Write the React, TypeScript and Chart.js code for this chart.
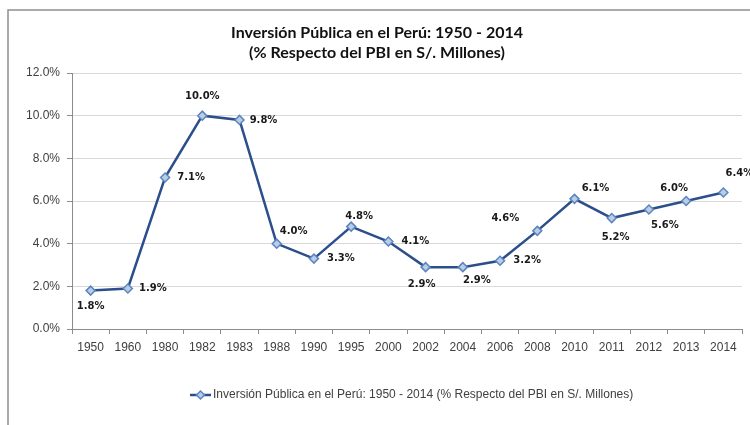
import React, { useEffect, useRef } from 'react';
import { Chart, registerables } from 'chart.js';

Chart.register(...registerables);

const years = ['1950', '1960', '1980', '1982', '1983', '1988', '1990', '1995', '2000', '2002', '2004', '2006', '2008', '2010', '2011', '2012', '2013', '2014'];
const values = [1.8, 1.9, 7.1, 10.0, 9.8, 4.0, 3.3, 4.8, 4.1, 2.9, 2.9, 3.2, 4.6, 6.1, 5.2, 5.6, 6.0, 6.4];
const yMin = 0;
const yMax = 12;
const yStep = 2;
const titleLines = ['Inversión Pública en el Perú: 1950 - 2014', '(% Respecto del PBI en S/. Millones)'];
const seriesName = 'Inversión Pública en el Perú: 1950 - 2014 (% Respecto del PBI en S/. Millones)';
// data label offsets relative to each point (style only)
const labelOffsets: [number, number][] = [
  [0, 16], [25, 0], [26, 0], [0, -19], [24, 0], [17, -12], [27, 0], [8, -10], [27, 0],
  [-4, 17], [14, 13], [27, 0], [-32, -12], [21, -10], [4, 19], [16, 16], [-12, -13], [16, -19],
];

const LINE = '#2c4f8c';
const MARK_FILL = '#b9cde5';
const MARK_BORDER = '#5b85bf';
const AXIS = '#8c8c8c';
const GRID = '#d9d9d9';
const TEXT = '#404040';

export default function App() {
  const ref = useRef<HTMLCanvasElement | null>(null);

  useEffect(() => {
    if (!ref.current) return;

    const framePlugin = {
      id: 'frame',
      beforeDraw(chart: any) {
        const ctx = chart.ctx;
        ctx.save();
        ctx.fillStyle = '#ffffff';
        ctx.fillRect(0, 0, chart.width, chart.height);
        ctx.strokeStyle = '#8f8f8f';
        ctx.lineWidth = 1.5;
        ctx.beginPath();
        ctx.moveTo(8, chart.height);
        ctx.lineTo(8, 10);
        ctx.lineTo(chart.width, 10);
        ctx.stroke();
        ctx.restore();
      },
      afterDraw(chart: any) {
        const ctx = chart.ctx;
        ctx.save();
        // title
        ctx.fillStyle = '#111111';
        ctx.textAlign = 'center';
        ctx.textBaseline = 'middle';
        ctx.font = 'bold 16px Lato';
        ctx.fillText(titleLines[0], 377, 33);
        ctx.fillText(titleLines[1], 377, 53);
        // legend
        const ly = 395;
        ctx.strokeStyle = LINE;
        ctx.lineWidth = 2.5;
        ctx.beginPath();
        ctx.moveTo(190, ly);
        ctx.lineTo(211, ly);
        ctx.stroke();
        ctx.fillStyle = MARK_FILL;
        ctx.strokeStyle = MARK_BORDER;
        ctx.lineWidth = 1.5;
        ctx.beginPath();
        ctx.moveTo(200.5, ly - 4);
        ctx.lineTo(204.5, ly);
        ctx.lineTo(200.5, ly + 4);
        ctx.lineTo(196.5, ly);
        ctx.closePath();
        ctx.fill();
        ctx.stroke();
        ctx.fillStyle = TEXT;
        ctx.textAlign = 'left';
        ctx.font = '12px "Liberation Sans"';
        ctx.fillText(seriesName, 213, ly);
        ctx.restore();
      },
    };

    const labelPlugin = {
      id: 'pointLabels',
      afterDatasetsDraw(chart: any) {
        const ctx = chart.ctx;
        const meta = chart.getDatasetMeta(0);
        ctx.save();
        ctx.font = 'bold 10px "DejaVu Sans"';
        ctx.fillStyle = '#1a1a1a';
        ctx.textAlign = 'center';
        ctx.textBaseline = 'middle';
        meta.data.forEach((el: any, i: number) => {
          const [dx, dy] = labelOffsets[i] || [0, -12];
          ctx.fillText(values[i].toFixed(1) + '%', el.x + dx, el.y + dy);
        });
        ctx.restore();
      },
    };

    const chart = new Chart(ref.current, {
      type: 'line',
      data: {
        labels: years,
        datasets: [
          {
            label: seriesName,
            data: values,
            borderColor: LINE,
            borderWidth: 2.5,
            backgroundColor: MARK_FILL,
            pointStyle: 'rectRot',
            pointRadius: 4.5,
            pointBackgroundColor: MARK_FILL,
            pointBorderColor: MARK_BORDER,
            pointBorderWidth: 1.5,
            tension: 0,
          },
        ],
      },
      options: {
        animation: false,
        responsive: false,
        devicePixelRatio: 1,
        layout: { padding: { top: 73, right: 8, left: 0, bottom: 0 } },
        plugins: {
          legend: { display: false },
          title: { display: false },
          tooltip: { enabled: false },
        },
        scales: {
          x: {
            offset: true,
            grid: {
              offset: true,
              drawOnChartArea: false,
              drawTicks: true,
              tickLength: 5,
              tickColor: AXIS,
            },
            border: { color: AXIS, width: 1 },
            ticks: {
              color: TEXT,
              font: { family: '"Liberation Sans"', size: 12 },
              padding: 6,
              maxRotation: 0,
              autoSkip: false,
            },
            afterFit(scale: any) {
              scale.height = 96;
            },
          },
          y: {
            min: yMin,
            max: yMax,
            grid: {
              color: GRID,
              lineWidth: 1,
              drawTicks: true,
              tickLength: 5,
              tickColor: AXIS,
            },
            border: { color: AXIS, width: 1 },
            ticks: {
              stepSize: yStep,
              color: TEXT,
              font: { family: '"Liberation Sans"', size: 12 },
              padding: 7,
              callback: (v: any) => Number(v).toFixed(1) + '%',
            },
            afterFit(scale: any) {
              scale.width = 72;
            },
          },
        },
      },
      plugins: [framePlugin, labelPlugin],
    });

    return () => chart.destroy();
  }, []);

  return (
    <div style={{ position: 'fixed', left: 0, top: 0, width: 750, height: 425 }}>
      <canvas ref={ref} width={750} height={425} style={{ display: 'block' }} />
    </div>
  );
}
